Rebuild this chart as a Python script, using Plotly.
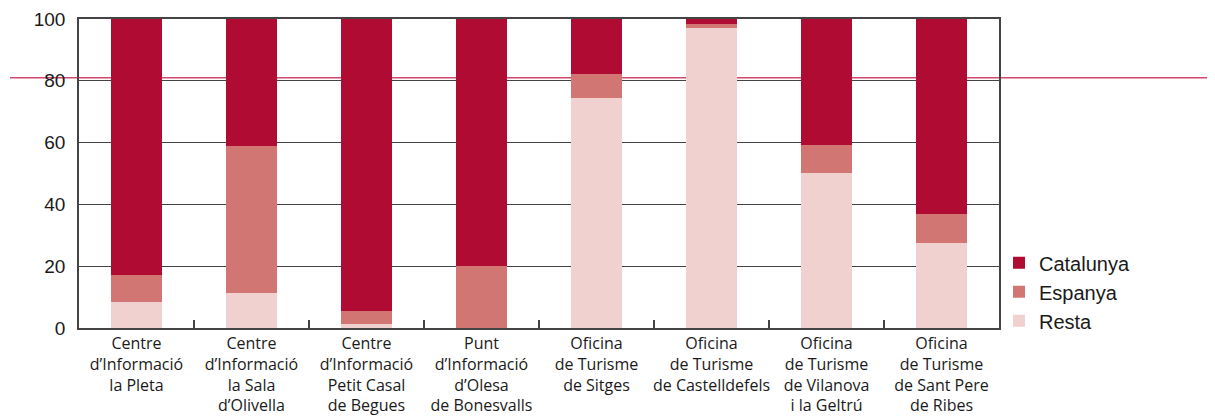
import plotly.graph_objects as go

categories = [
    "Centre<br>d’Informació<br>la Pleta",
    "Centre<br>d’Informació<br>la Sala<br>d’Olivella",
    "Centre<br>d’Informació<br>Petit Casal<br>de Begues",
    "Punt<br>d’Informació<br>d’Olesa<br>de Bonesvalls",
    "Oficina<br>de Turisme<br>de Sitges",
    "Oficina<br>de Turisme<br>de Castelldefels",
    "Oficina<br>de Turisme<br>de Vilanova<br>i la Geltrú",
    "Oficina<br>de Turisme<br>de Sant Pere<br>de Ribes",
]
resta = [8.4, 11.3, 1.4, 0.0, 74.4, 97.1, 50.2, 27.5]
espanya = [8.8, 47.6, 4.1, 20.1, 7.8, 1.3, 9.0, 9.4]
catalunya = [82.8, 41.1, 95.8, 79.9, 17.8, 1.6, 40.8, 63.1]
y_ticks = [0, 20, 40, 60, 80, 100]

fig = go.Figure()
fig.add_trace(go.Bar(x=categories, y=resta, name="Resta", marker_color="#f0d1cf",
                     marker_line_width=0, cliponaxis=False))
fig.add_trace(go.Bar(x=categories, y=espanya, name="Espanya", marker_color="#d17673",
                     marker_line_width=0, cliponaxis=False))
fig.add_trace(go.Bar(x=categories, y=catalunya, name="Catalunya", marker_color="#b00b33",
                     marker_line_width=0, cliponaxis=False))

fig.add_shape(type="line", xref="paper", yref="paper", x0=-0.075, x1=1.25,
              y0=0.81, y1=0.81, line=dict(color="#cf4a6a", width=1.5), layer="below")

fig.update_layout(
    barmode="stack",
    bargap=0.55,
    width=1207, height=408,
    margin=dict(l=71, r=216, t=11, b=88, autoexpand=False),
    paper_bgcolor="white", plot_bgcolor="white",
    font=dict(family="Liberation Sans, Arial, sans-serif", size=19, color="#1a1a1a"),
    legend=dict(traceorder="reversed", x=1.0, y=0.274, xanchor="left", yanchor="top",
                font=dict(size=20), itemwidth=30, tracegroupgap=0,
                bgcolor="rgba(0,0,0,0)"),
    showlegend=True,
)
fig.update_xaxes(
    type="category", showline=True, linecolor="#444", linewidth=1.5, mirror=True,
    ticks="inside", tickson="boundaries", ticklen=8, tickcolor="#444", tickwidth=1.5,
    tickangle=0, automargin=False,
    tickfont=dict(family="Open Sans, Noto Sans, sans-serif", size=16, color="#1a1a1a"),
    showgrid=False,
)
fig.update_yaxes(
    range=[0, 100], tickvals=y_ticks, showgrid=True, gridcolor="#444", gridwidth=1.2,
    showline=True, linecolor="#444", linewidth=1.5, mirror=True, zeroline=False,
    ticks="", ticklabelstandoff=8, automargin=False,
    tickfont=dict(family="Liberation Sans, Arial, sans-serif", size=19, color="#1a1a1a"),
)
fig.write_html("out.html")
